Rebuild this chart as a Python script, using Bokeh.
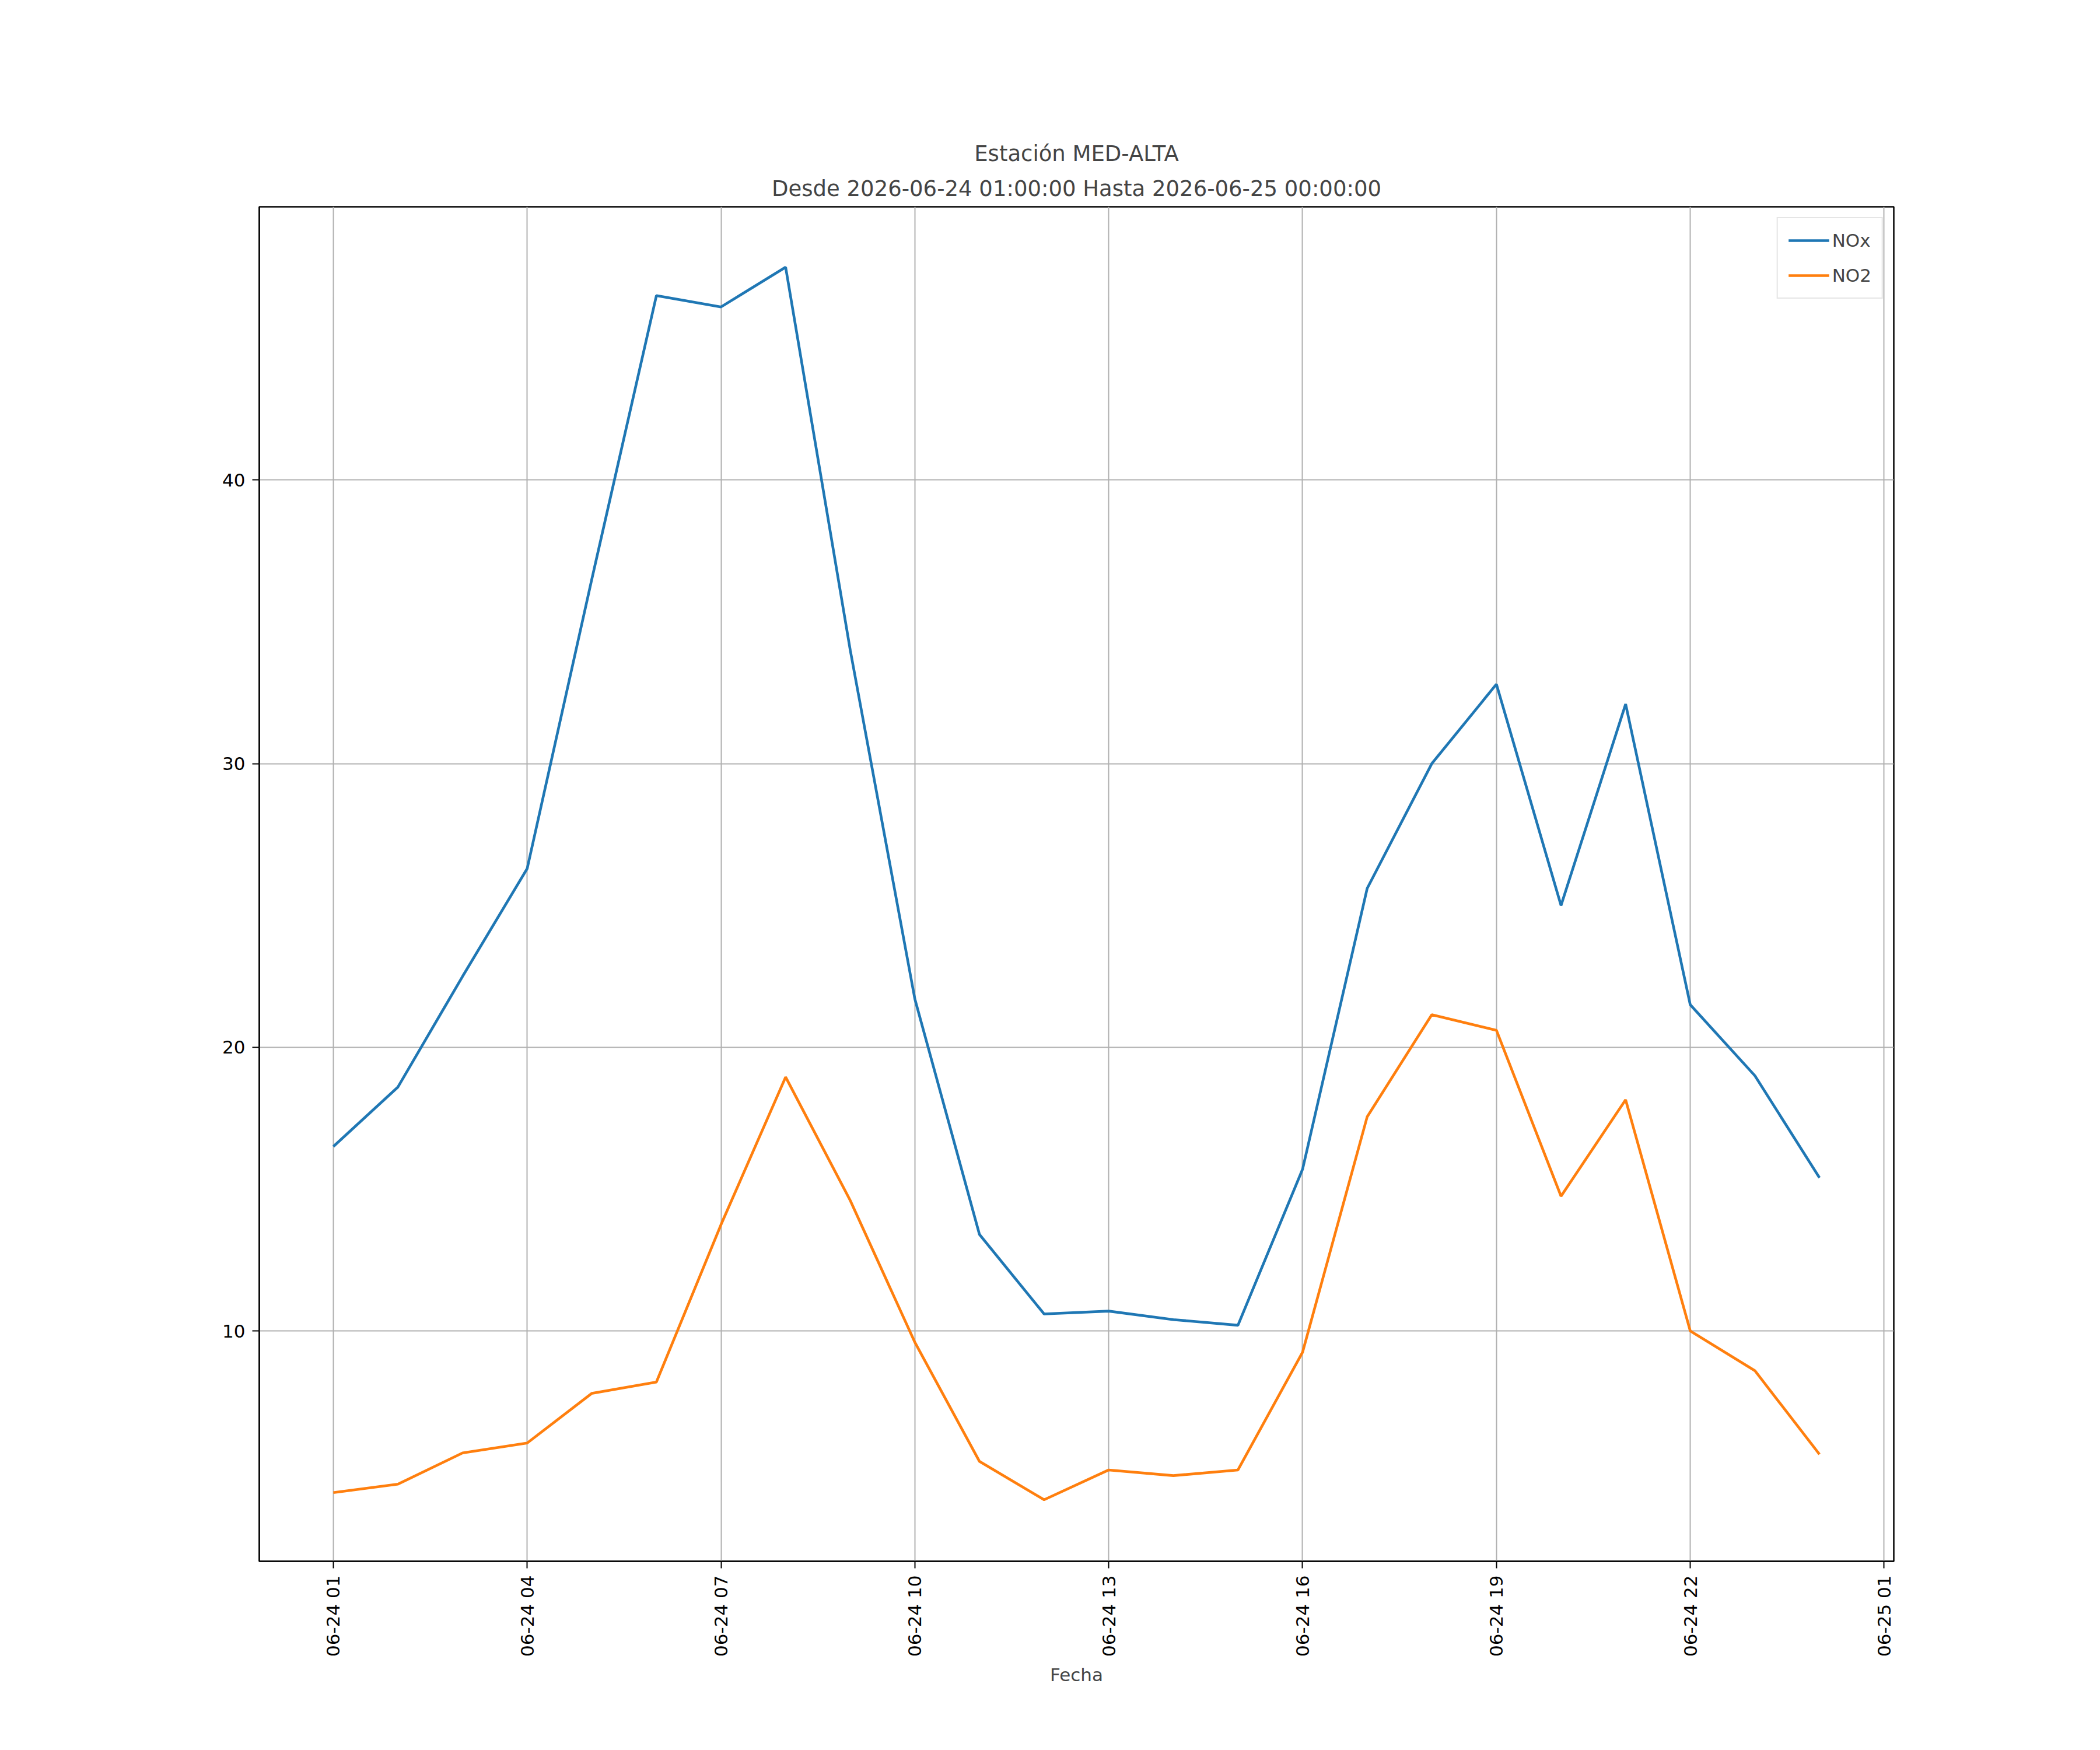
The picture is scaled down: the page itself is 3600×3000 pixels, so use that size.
import pandas as pd
from bokeh.plotting import figure
from bokeh.models import Title, DatetimeTickFormatter, FixedTicker, Range1d
from bokeh.embed import file_html
from bokeh.resources import INLINE
import math

times = pd.date_range("2026-06-24 01:00:00", "2026-06-25 00:00:00", freq="h")
nox = [16.5, 18.6, 22.5, 26.3, 36.5, 46.5, 46.1, 47.5, 34.0, 21.7, 13.4, 10.6,
       10.7, 10.4, 10.2, 15.7, 25.6, 30.0, 32.8, 25.0, 32.1, 21.5, 19.0, 15.4]
no2 = [4.3, 4.6, 5.7, 6.05, 7.8, 8.2, 13.75, 18.95, 14.6, 9.6, 5.4, 4.05,
       5.1, 4.9, 5.1, 9.25, 17.55, 21.15, 20.6, 14.75, 18.15, 10.0, 8.6, 5.65]
yticks = [10, 20, 30, 40]
xtick_times = pd.date_range("2026-06-24 01:00:00", "2026-06-25 01:00:00", freq="3h")

t0 = times[0]
hour = pd.Timedelta(hours=1)
p = figure(width=3584, height=2984, output_backend="svg", toolbar_location=None,
           x_axis_type="datetime",
           x_range=Range1d(t0 - 1.146 * hour, t0 + 24.15 * hour),
           y_range=Range1d(1.88, 49.63),
           min_border_left=444, min_border_right=338, min_border_top=354, min_border_bottom=308)
p.add_layout(Title(text="Desde 2026-06-24 01:00:00 Hasta 2026-06-25 00:00:00", align="center",
                   text_font="DejaVu Sans", text_font_size="37px", text_font_style="normal",
                   standoff=20), "above")
p.add_layout(Title(text="Estación MED-ALTA", align="center",
                   text_font="DejaVu Sans", text_font_size="37px", text_font_style="normal"), "above")

p.line(times, nox, line_color="#1f77b4", line_width=4.6, legend_label="NOx")
p.line(times, no2, line_color="#ff7f0e", line_width=4.6, legend_label="NO2")

p.xaxis.ticker = FixedTicker(ticks=[t.value / 1e6 for t in xtick_times])
p.xaxis.formatter = DatetimeTickFormatter(hours="%m-%d %H", days="%m-%d %H", hourmin="%m-%d %H")
p.xaxis.major_label_orientation = math.pi / 2
p.xaxis.axis_label = "Fecha"
p.yaxis.ticker = FixedTicker(ticks=yticks)
for ax in (p.xaxis, p.yaxis):
    ax.major_label_text_font = "DejaVu Sans"
    ax.major_label_text_font_size = "31px"
    ax.major_label_standoff = 12
    ax.axis_label_text_font = "DejaVu Sans"
    ax.axis_label_text_font_size = "31px"
    ax.axis_label_text_font_style = "normal"
    ax.axis_label_standoff = 10
    ax.minor_tick_line_color = None
    ax.major_tick_out = 12
    ax.major_tick_in = 0
    ax.major_tick_line_width = 2
    ax.axis_line_color = "black"
    ax.axis_line_width = 2
    ax.major_label_text_color = "black"
p.grid.grid_line_color = "#b0b0b0"
p.grid.grid_line_width = 2
p.outline_line_color = "black"
p.outline_line_width = 2.5
p.background_fill_color = "white"

p.legend.location = "top_right"
p.legend.margin = 18
p.legend.label_text_font = "DejaVu Sans"
p.legend.label_text_font_size = "31px"
p.legend.border_line_color = "#cccccc"
p.legend.border_line_width = 2
p.legend.glyph_width = 70
p.legend.glyph_height = 40
p.legend.label_height = 40
p.legend.spacing = 20
p.legend.padding = 18

open("out.html", "w").write(file_html(p, INLINE))
